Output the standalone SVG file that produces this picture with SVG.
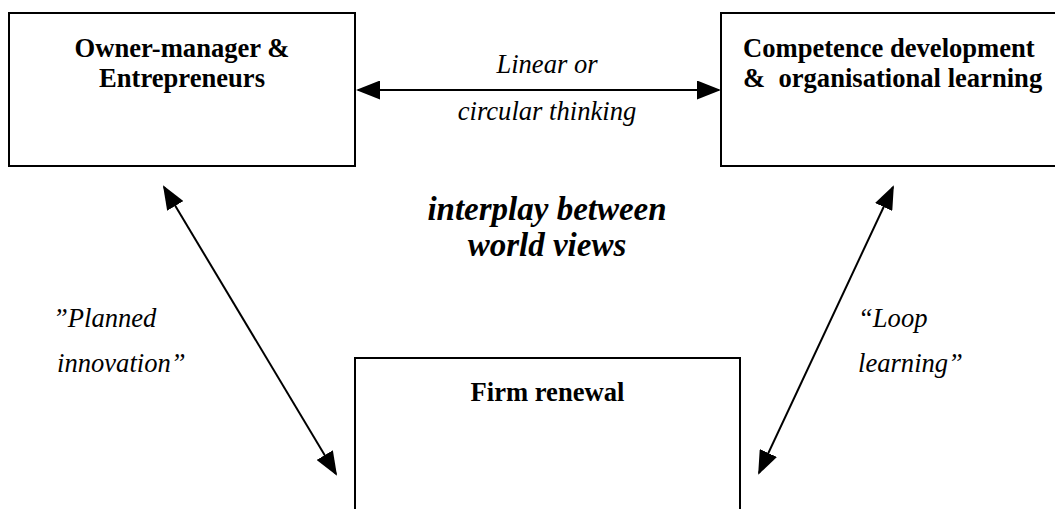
<svg xmlns="http://www.w3.org/2000/svg" width="1055" height="509" viewBox="0 0 1055 509">
<style>
.box{fill:#fff;stroke:#000;stroke-width:2}
.t{font-family:"Liberation Serif","Times New Roman",serif;font-size:26.6px;fill:#000}
.b{font-weight:bold}
.i{font-style:italic}
.c{text-anchor:middle}
.big{font-size:33px}
.conn{stroke:#000;stroke-width:2;fill:none;marker-start:url(#ah);marker-end:url(#ah)}
</style>
<defs>
<marker id="ah" markerUnits="userSpaceOnUse" markerWidth="24" markerHeight="19" refX="22" refY="9.5" orient="auto-start-reverse" viewBox="0 0 24 19">
<path d="M0,0 L24,9.5 L0,19 z" fill="#000"/>
</marker>
</defs>
<g id="node-owner">
<rect class="box" x="9" y="13" width="346" height="153"/>
<text class="t b c" x="182" y="57">Owner-manager &amp;</text>
<text class="t b c" x="182" y="87">Entrepreneurs</text>
</g>
<g id="node-competence">
<rect class="box" x="721" y="13" width="345" height="153"/>
<text class="t b" x="743" y="57">Competence development</text>
<text class="t b" x="743" y="87" xml:space="preserve">&amp;  organisational learning</text>
</g>
<g id="node-firm">
<rect class="box" x="355" y="358" width="385" height="160"/>
<text class="t b c" x="547.5" y="401">Firm renewal</text>
</g>
<g id="connectors">
<line class="conn" x1="358" y1="90" x2="719" y2="90"/>
<line class="conn" x1="164" y1="187" x2="336" y2="474"/>
<line class="conn" x1="893" y1="187" x2="759" y2="473"/>
</g>
<g id="labels">
<text class="t i c" x="547" y="73">Linear or</text>
<text class="t i c" x="547" y="120">circular thinking</text>
<text class="t b i c big" x="547" y="220">interplay between</text>
<text class="t b i c big" x="547" y="256">world views</text>
<text class="t i" x="53" y="327">”Planned</text>
<text class="t i" x="57" y="372">innovation”</text>
<text class="t i" x="858" y="327">“Loop</text>
<text class="t i" x="858" y="372">learning”</text>
</g>
</svg>
